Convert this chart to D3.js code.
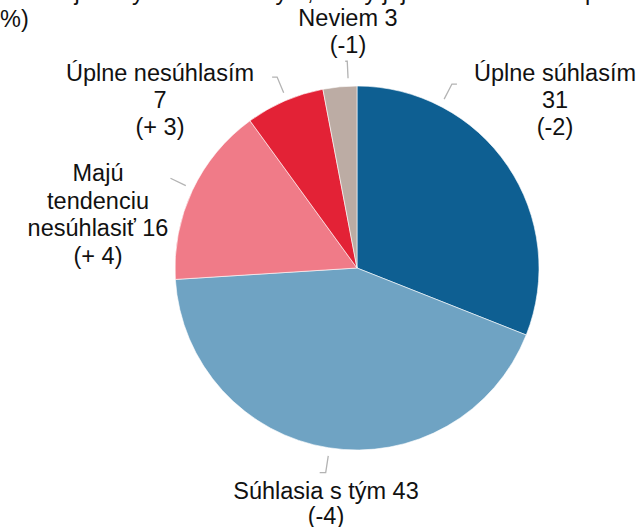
<!DOCTYPE html>
<html lang="sk">
<head>
<meta charset="UTF-8">
<title>Koláčový graf</title>
<script src="https://cdn.jsdelivr.net/npm/d3@7"></script>
<style>
  body { margin: 0; background: #fff; }
  svg { display: block; font-family: "Liberation Sans", Arial, sans-serif; }
  .lbl { font-size: 23.5px; fill: #111; }
  .leader { stroke: #b3b3b3; stroke-width: 1.3; fill: none; }
</style>
</head>
<body>
<svg id="chart" width="641" height="527"></svg>
<script>
// údaje (v %), poradie v smere hodinových ručičiek od 12:00
var categories = ["Úplne súhlasím", "Súhlasia s tým", "Majú tendenciu nesúhlasiť", "Úplne nesúhlasím", "Neviem"];
var values = [31, 43, 16, 7, 3];
var changes = ["(-2)", "(-4)", "(+ 4)", "(+ 3)", "(-1)"];
// riadky popisiek
var labelLines = [
  ["Úplne súhlasím", "31", "(-2)"],
  ["Súhlasia s tým 43", "(-4)"],
  ["Majú", "tendenciu", "nesúhlasiť 16", "(+ 4)"],
  ["Úplne nesúhlasím", "7", "(+ 3)"],
  ["Neviem 3", "(-1)"]
];
var colors = ["#0e5f92", "#6fa3c3", "#f07b88", "#e32236", "#bcaca4"];

var titleLines = ["Do akej miery súhlasíte s tým, že by jej Slovensko malo pomáhať? (zmena oproti jar,", "%)"];

// rozloženie
var cx = 357, cy = 268, R = 182, lineH = 27;
var labelPos = [[555, 81], [326, 499], [98, 181], [160, 81], [348, 26]];
var labelLineH = [27, 25, 27.5, 27, 27];
var leaderAngle = [27.3, 188.7, 295.7, 337.3, 357.3];
var leaderElbow = [5, -6, 0, -5, -2];

var svg = d3.select("#chart");

// nadpis (orezaný hore)
svg.selectAll("text.title").data(titleLines).enter().append("text")
  .attr("class", "lbl")
  .attr("x", 0)
  .attr("y", function (d, i) { return -0.5 + i * lineH; })
  .text(function (d) { return d; });

var pie = d3.pie().sort(null).value(function (d) { return d; });
var arc = d3.arc().innerRadius(0).outerRadius(R);

var g = svg.append("g").attr("transform", "translate(" + cx + "," + cy + ")");

g.selectAll("path").data(pie(values)).enter().append("path")
  .attr("d", arc)
  .attr("fill", function (d, i) { return colors[i]; })
  .attr("stroke", "#fff")
  .attr("stroke-width", 0.6);

// vodiace čiary
function polar(a, r) {
  var t = a * Math.PI / 180;
  return [r * Math.sin(t), -r * Math.cos(t)];
}
g.selectAll("path.leader").data(leaderAngle).enter().append("path")
  .attr("class", "leader")
  .attr("d", function (a, i) {
    var p0 = polar(a, R + 8), p1 = polar(a, R + 25);
    return d3.line()([p0, p1, [p1[0] + leaderElbow[i], p1[1]]]);
  });

// popisky
labelLines.forEach(function (lines, i) {
  var t = svg.append("text").attr("class", "lbl").attr("text-anchor", "middle");
  lines.forEach(function (s, j) {
    t.append("tspan")
      .attr("x", labelPos[i][0])
      .attr("y", labelPos[i][1] + j * labelLineH[i])
      .text(s);
  });
});
</script>
</body>
</html>
